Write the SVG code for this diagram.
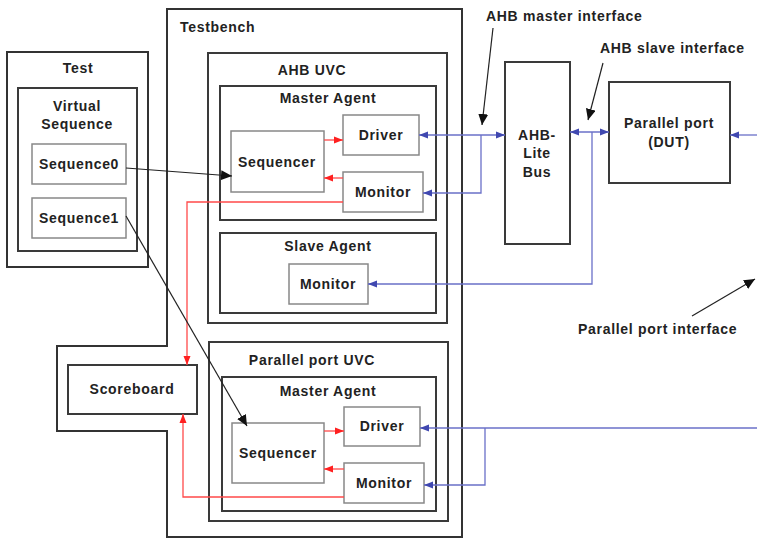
<svg xmlns="http://www.w3.org/2000/svg" width="757" height="539" viewBox="0 0 757 539">
<defs>
<style>
text{font-family:"Liberation Sans",Arial,sans-serif;font-weight:bold;font-size:14px;fill:#222;letter-spacing:0.7px}
.c{text-anchor:middle}
.outer{fill:none;stroke:#333;stroke-width:2}
.mid{fill:none;stroke:#3a3a3a;stroke-width:2}
.inner{fill:#fff;stroke:#888;stroke-width:1.5}
.blue{fill:none;stroke:#6a70c8;stroke-width:1.3}
.red{fill:none;stroke:#ff4a4a;stroke-width:1.3}
.blk{fill:none;stroke:#222;stroke-width:1.2}
</style>
<marker id="ab" markerUnits="userSpaceOnUse" markerWidth="10" markerHeight="8" refX="9" refY="4" orient="auto-start-reverse"><path d="M0,0.5 L9,4 L0,7.5 Z" fill="#4048b0"/></marker>
<marker id="ar" markerUnits="userSpaceOnUse" markerWidth="10" markerHeight="8" refX="9" refY="4" orient="auto"><path d="M0,0.5 L9,4 L0,7.5 Z" fill="#ff2020"/></marker>
<marker id="ak" markerUnits="userSpaceOnUse" markerWidth="12" markerHeight="10" refX="11" refY="5" orient="auto"><path d="M0,0 L11,5 L0,10 Z" fill="#111"/></marker>
</defs>

<g id="testbench"><path class="outer" d="M167,9 H462 V537 H167 V431 H57 V346 H167 Z"/><text x="180" y="32">Testbench</text></g>

<g id="test"><rect class="outer" x="7" y="52" width="141" height="215"/><text class="c" x="78" y="73">Test</text></g>
<g id="virtual-sequence"><rect class="mid" x="18" y="88" width="119" height="163"/><text class="c" x="77" y="111">Virtual</text><text class="c" x="77" y="129">Sequence</text></g>
<g id="sequence0"><rect class="inner" x="32" y="144" width="94" height="40"/><text class="c" x="79" y="169">Sequence0</text></g>
<g id="sequence1"><rect class="inner" x="32" y="198" width="94" height="40"/><text class="c" x="79" y="223">Sequence1</text></g>

<g id="ahb-uvc"><rect class="mid" x="208" y="53" width="239" height="270"/><text class="c" x="312" y="75">AHB UVC</text></g>
<g id="ahb-master-agent"><rect class="mid" x="220" y="86" width="216" height="134"/><text class="c" x="328" y="103">Master Agent</text></g>
<g id="ahb-sequencer"><rect class="inner" x="231" y="131" width="93" height="61"/><text class="c" x="277" y="167">Sequencer</text></g>
<g id="ahb-driver"><rect class="inner" x="343" y="115" width="76" height="40"/><text class="c" x="381" y="140">Driver</text></g>
<g id="ahb-monitor"><rect class="inner" x="343" y="172" width="80" height="40"/><text class="c" x="383" y="197">Monitor</text></g>
<g id="slave-agent"><rect class="mid" x="220" y="233" width="216" height="80"/><text class="c" x="328" y="251">Slave Agent</text></g>
<g id="slave-monitor"><rect class="inner" x="289" y="264" width="79" height="40"/><text class="c" x="328" y="289">Monitor</text></g>

<g id="pp-uvc"><rect class="mid" x="209" y="342" width="239" height="179"/><text class="c" x="312" y="365">Parallel port UVC</text></g>
<g id="pp-master-agent"><rect class="mid" x="222" y="377" width="214" height="134"/><text class="c" x="328" y="396">Master Agent</text></g>
<g id="pp-sequencer"><rect class="inner" x="232" y="423" width="92" height="60"/><text class="c" x="278" y="458">Sequencer</text></g>
<g id="pp-driver"><rect class="inner" x="344" y="407" width="76" height="39"/><text class="c" x="382" y="431">Driver</text></g>
<g id="pp-monitor"><rect class="inner" x="344" y="463" width="80" height="40"/><text class="c" x="384" y="488">Monitor</text></g>

<g id="scoreboard"><rect class="mid" x="68" y="365" width="129" height="49"/><text class="c" x="132" y="394">Scoreboard</text></g>

<g id="ahb-lite-bus"><rect class="mid" x="505" y="62" width="65" height="182"/><text class="c" x="537" y="140">AHB-</text><text class="c" x="537" y="158">Lite</text><text class="c" x="537" y="177">Bus</text></g>
<g id="dut"><rect class="mid" x="609" y="82" width="121" height="101"/><text class="c" x="669" y="128">Parallel port</text><text class="c" x="669" y="147">(DUT)</text></g>

<g id="labels">
<text x="486" y="21">AHB master interface</text>
<text x="600" y="53">AHB slave interface</text>
<text x="578" y="334">Parallel port interface</text>
</g>

<g id="connectors">
<path class="blue" d="M505,135 H419" marker-start="url(#ab)" marker-end="url(#ab)"/>
<path class="blue" d="M481,135 V193 H423" marker-end="url(#ab)"/>
<path class="blue" d="M570,132 H609" marker-start="url(#ab)" marker-end="url(#ab)"/>
<path class="blue" d="M592,132 V284 H368" marker-end="url(#ab)"/>
<path class="blue" d="M757,135 H730" marker-end="url(#ab)"/>
<path class="blue" d="M757,428 H420" marker-end="url(#ab)"/>
<path class="blue" d="M485,428 V485 H424" marker-end="url(#ab)"/>

<path class="red" d="M324,140 H343" marker-end="url(#ar)"/>
<path class="red" d="M343,178 H324" marker-end="url(#ar)"/>
<path class="red" d="M343,202 H187 V365" marker-end="url(#ar)"/>
<path class="red" d="M324,431 H344" marker-end="url(#ar)"/>
<path class="red" d="M344,469 H324" marker-end="url(#ar)"/>
<path class="red" d="M344,497 H183 V414" marker-end="url(#ar)"/>

<path class="blk" d="M126,168 L232,176" marker-end="url(#ak)"/>
<path class="blk" d="M126,216 L247,426" marker-end="url(#ak)"/>
<path class="blk" d="M493,28 L482,125" marker-end="url(#ak)"/>
<path class="blk" d="M603,63 L588,120" marker-end="url(#ak)"/>
<path class="blk" d="M692,316 L755,279" marker-end="url(#ak)"/>
</g>
</svg>
